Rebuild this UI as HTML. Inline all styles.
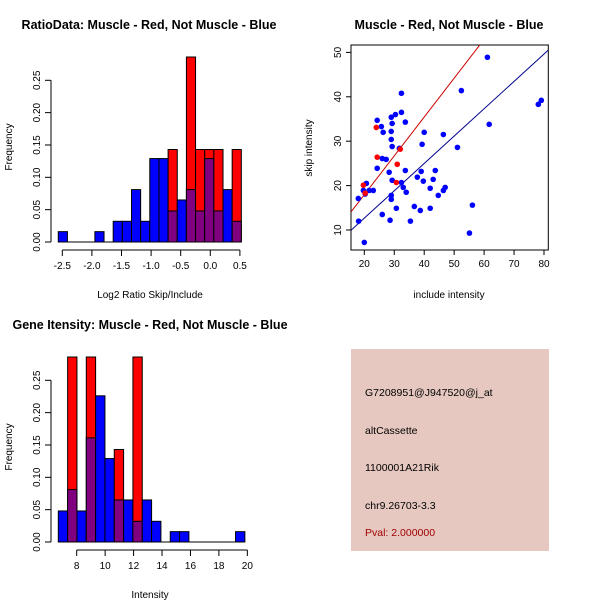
<!DOCTYPE html>
<html><head><meta charset="utf-8"><style>
body{margin:0;background:#fff}
svg{display:block;font-family:"Liberation Sans",sans-serif}
</style></head><body>
<svg id="s" width="600" height="600" viewBox="0 0 600 600">
<rect width="600" height="600" fill="#fff"/>
<text x="149" y="29" font-size="12.5" font-weight="bold" text-anchor="middle">RatioData: Muscle - Red, Not Muscle - Blue</text>
<text x="449" y="29" font-size="12.5" font-weight="bold" text-anchor="middle">Muscle - Red, Not Muscle - Blue</text>
<text x="150" y="329" font-size="12.5" font-weight="bold" text-anchor="middle">Gene Itensity: Muscle - Red, Not Muscle - Blue</text>
<text x="150" y="298" font-size="10" text-anchor="middle">Log2 Ratio Skip/Include</text>
<text x="150" y="598" font-size="10" text-anchor="middle">Intensity</text>
<text x="449" y="298" font-size="10" text-anchor="middle">include intensity</text>
<text transform="translate(12,147) rotate(-90)" font-size="10" text-anchor="middle">Frequency</text>
<text transform="translate(12,447) rotate(-90)" font-size="10" text-anchor="middle">Frequency</text>
<text transform="translate(312,148) rotate(-90)" font-size="10" text-anchor="middle">skip intensity</text>
<g>
<rect x="351" y="349" width="198" height="202" fill="#e6c8c0"/>
<text x="365" y="396" font-size="10.5">G7208951@J947520@j_at</text>
<text x="365" y="434" font-size="10.5">altCassette</text>
<text x="365" y="471" font-size="10.5">1100001A21Rik</text>
<text x="365" y="509" font-size="10.5">chr9.26703-3.3</text>
<text x="365" y="536" font-size="10.5" fill="#a00000">Pval: 2.000000</text>
</g>
</svg>
<script>
const ratioBlue=[0.016,0,0,0,0.016,0,0.032,0.032,0.081,0.032,0.129,0.129,0.048,0.065,0.081,0.048,0.129,0.048,0.081,0.032];
const ratioRed=[0,0,0,0,0,0,0,0,0,0,0,0,0.143,0,0.286,0.143,0.143,0.143,0,0.143];
const ratioXTicks=[-2.5,-2.0,-1.5,-1.0,-0.5,0.0,0.5];
const intBlue=[0.048,0.081,0.048,0.161,0.226,0.129,0.065,0.065,0.032,0.065,0.032,0,0.016,0.016,0,0,0,0,0,0.016];
const intRed=[0,0.286,0,0.286,0,0,0.143,0,0.286,0,0,0,0,0,0,0,0,0,0,0];
const intXTicks=[8,10,12,14,16,18,20];
const freqTicks=[0,0.05,0.10,0.15,0.20,0.25];
const blueX=[18.0,18.1,20,19.7,20.7,20.3,21.6,23.0,24.3,24.3,25.7,26.3,26.0,27.3,26.0,28.3,28.6,29.0,29.3,29.0,29.0,29.3,29.3,29.0,29.0,30.4,30.7,31.7,32.4,32.4,32.4,33.0,33.7,33.7,34.0,35.4,36.7,37.7,38.7,39.0,39.3,39.7,40.0,42.0,42.0,43.0,43.7,44.7,46.4,46.4,47.0,51.1,52.4,55.1,56.1,61.1,61.7,78.1,79.1];
const blueY=[17.1,12.0,7.2,18.9,20.5,18.1,18.9,18.9,34.7,23.9,33.3,32.0,26.1,25.9,13.5,23.0,12.2,35.4,34.0,32.2,30.4,28.8,21.2,17.8,16.9,36.0,14.9,28.4,40.8,36.5,20.7,19.6,34.3,23.4,18.5,12.0,15.3,21.9,14.4,23.2,29.3,21.0,32.0,19.4,14.9,21.4,23.4,17.8,31.5,18.9,19.6,28.6,41.4,9.3,15.6,48.9,33.8,38.3,39.2];
const redX=[19.7,20.3,24.0,24.3,32.0,31.0,30.7];
const redY=[20.1,18.3,33.1,26.4,28.2,24.8,20.7];
const redFit=[0.44,0.875];
const blueFit=[0.35,0.616];
const scXTicks=[20,30,40,50,60,70,80];
const scYTicks=[10,20,30,40,50];

const NS="http://www.w3.org/2000/svg",S=document.getElementById('s');
function mk(t,a,p){const e=document.createElementNS(NS,t);for(const k in a)e.setAttribute(k,a[k]);(p||S).appendChild(e);return e;}

function hist(blue,red,x0,bw,xs,ys,axY,xTicks,yAxX,name){
  const g=mk('g',{});
  
  
  mk('line',{x1:xs(x0),x2:xs(x0+blue.length*bw),y1:ys(0),y2:ys(0),stroke:'#000'},g);
  for(let i=0;i<blue.length;i++){
    const l=xs(x0+i*bw),r=xs(x0+(i+1)*bw);
    const b=blue[i],rd=red[i];
    const hi=Math.max(b,rd),lo=Math.min(b,rd);
    if(hi<=0)continue;
    const col=b>=rd?'#0000ff':'#ff0000';
    const e=mk('rect',{x:l,y:ys(hi),width:r-l,height:ys(0)-ys(hi),fill:col,stroke:'#000','stroke-width':1},g);
    
    
    if(lo>0){
      const o=mk('rect',{x:l,y:ys(lo),width:r-l,height:ys(0)-ys(lo),fill:'#800080',stroke:'#000','stroke-width':1},g);
      
      
    }
  }
  const ya=mk('g',{});
  
  
  mk('line',{x1:yAxX,x2:yAxX,y1:ys(freqTicks[0]),y2:ys(freqTicks[freqTicks.length-1]),stroke:'#000'},ya);
  freqTicks.forEach(v=>{
    mk('line',{x1:yAxX-6,x2:yAxX,y1:ys(v),y2:ys(v),stroke:'#000'},ya);
    const t=mk('text',{transform:`translate(${yAxX-11},${ys(v)}) rotate(-90)`,'font-size':10,'text-anchor':'middle'},ya);
    t.textContent=v.toFixed(2);
  });
  const xa=mk('g',{});
  
  
  mk('line',{x1:xs(xTicks[0]),x2:xs(xTicks[xTicks.length-1]),y1:axY,y2:axY,stroke:'#000'},xa);
  xTicks.forEach(v=>{
    mk('line',{x1:xs(v),x2:xs(v),y1:axY,y2:axY+6,stroke:'#000'},xa);
    const t=mk('text',{x:xs(v),y:axY+19,'font-size':10,'text-anchor':'middle'},xa);
    t.textContent=name.startsWith('int')?String(v):v.toFixed(1);
  });
}
const rxs=v=>62.3+(v+2.5)*59.2, rys=v=>242-v*646.8;
hist(ratioBlue,ratioRed,-2.568,0.1546,rxs,rys,250,ratioXTicks,51,'ratio-hist');
const ixs=v=>76.7+(v-8)*14.22, iys=v=>542-v*646.8;
hist(intBlue,intRed,6.706,0.656,ixs,iys,550,intXTicks,51,'int-hist');

// scatter
const sxs=v=>364.3+(v-20)*2.995, sys=v=>230-(v-10)*4.44;
const L=351,R=548.3,T=45,B=250;
const sg=mk('g',{});


const cp=mk('clipPath',{id:'cp'});mk('rect',{x:L,y:T,width:R-L,height:B-T},cp);
mk('rect',{x:L,y:T,width:R-L,height:B-T,fill:'none',stroke:'#000'},sg);
function fit(f,col,nm){
  const xa=15.56,xb=81.4;
  const e=mk('line',{x1:sxs(xa),y1:sys(f[0]+f[1]*xa),x2:sxs(xb),y2:sys(f[0]+f[1]*xb),stroke:col,'clip-path':'url(#cp)'},sg);
  
  
}
fit(redFit,'#cc0000','red-fit-line');
fit(blueFit,'#00008b','blue-fit-line');
blueX.forEach((x,i)=>{const c=mk('circle',{cx:sxs(x),cy:sys(blueY[i]),r:2.8,fill:'#0000ff'},sg);
  
  });
redX.forEach((x,i)=>{const c=mk('circle',{cx:sxs(x),cy:sys(redY[i]),r:2.8,fill:'#ff0000'},sg);
  
  });
scXTicks.forEach(v=>{mk('line',{x1:sxs(v),x2:sxs(v),y1:B,y2:B+5,stroke:'#000'},sg);
  const t=mk('text',{x:sxs(v),y:B+17,'font-size':10,'text-anchor':'middle'},sg);t.textContent=v;});
scYTicks.forEach(v=>{mk('line',{x1:L-5,x2:L,y1:sys(v),y2:sys(v),stroke:'#000'},sg);
  const t=mk('text',{transform:`translate(${L-10},${sys(v)}) rotate(-90)`,'font-size':10,'text-anchor':'middle'},sg);t.textContent=v;});
</script>
</body></html>
